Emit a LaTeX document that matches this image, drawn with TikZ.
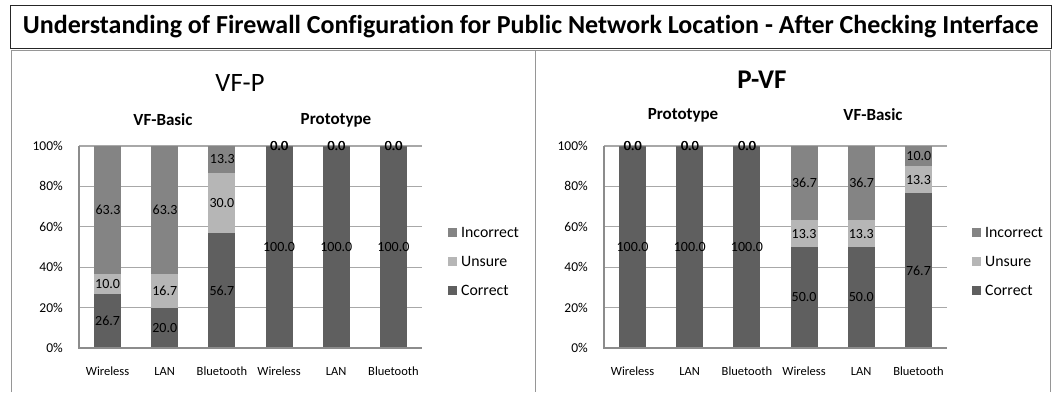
\documentclass[tikz,border=0pt]{standalone}
\usepackage{fontspec}
\setmainfont[Ligatures=NoCommon]{Carlito}
\definecolor{corc}{RGB}{95,95,95}
\definecolor{unsc}{RGB}{182,182,182}
\definecolor{incc}{RGB}{132,132,132}
\definecolor{gridc}{RGB}{168,168,168}
\definecolor{axisc}{RGB}{140,140,140}
\definecolor{framec}{RGB}{150,150,150}
\tikzset{
  gridline/.style={draw=gridc, line width=1.1pt},
  axisline/.style={draw=axisc, line width=1.6pt},
  dlab/.style={inner sep=0pt, font=\fontsize{14}{16}\selectfont},
  ticklab/.style={inner sep=0pt, anchor=east, font=\fontsize{13.5}{16}\selectfont},
  catlab/.style={inner sep=0pt, font=\fontsize{12.5}{15}\selectfont},
  leglab/.style={inner sep=0pt, anchor=west, font=\fontsize{15.8}{18}\selectfont},
  subtitle/.style={inner sep=0pt, font=\bfseries\fontsize{17}{20}\selectfont},
}
\newcommand\drawchart[3]{%
\begin{scope}[xshift=#1pt]
  \foreach \p in {20,40,60,80,100} \draw[gridline] (0,{348-2.02*\p}) -- (343,{348-2.02*\p});
  \foreach \k/\c/\u/\i/\cat in {#2} {
    \pgfmathsetmacro\xa{(\k-0.5)*57.17-13.5}
    \pgfmathsetmacro\xb{\xa+27}
    \pgfmathsetmacro\xm{\xa+13.5}
    \pgfmathsetmacro\yc{348-2.02*\c}
    \pgfmathsetmacro\yu{\yc-2.02*\u}
    \pgfmathsetmacro\yi{\yu-2.02*\i}
    \fill[corc] (\xa,348) rectangle (\xb,\yc);
    \fill[unsc] (\xa,\yc) rectangle (\xb,\yu);
    \fill[incc] (\xa,\yu) rectangle (\xb,\yi);
    \node[dlab] (#3c\k) at (\xm,{(348+\yc)/2}) {\c};
    \node[dlab] (#3u\k) at (\xm,{(\yc+\yu)/2}) {\u};
    \node[dlab] (#3i\k) at ({\xm+0.4},{(\yu+\yi)/2}) {\i};
    \node[catlab] (#3cat\k) at (\xm,371) {\cat};
  }
  \foreach \p in {0,20,40,60,80,100} \node[ticklab] (#3t\p) at (-16,{348-2.02*\p}) {\p\%};
  \draw[axisline] (0,146) -- (0,348) -- (343,348);
\end{scope}}
\begin{document}
\begin{tikzpicture}[x=1pt,y=-1pt]
\useasboundingbox (0,0) rectangle (1052,392);
\fill[white] (0,0) rectangle (1052,392);
% panels
\draw[framec, line width=1.2pt] (11.5,392) -- (11.5,50.7) -- (1050.5,50.7) -- (1050.5,392);
\draw[framec, line width=1.2pt] (535.7,50.7) -- (535.7,392);
% title box
\node[draw=black!85, line width=1pt, minimum width=1040.5pt, minimum height=43.5pt, inner sep=0pt,
      font=\bfseries\fontsize{26}{30}\selectfont] (title) at (530.75,26.75)
  {Understanding of Firewall Configuration for Public Network Location - After Checking Interface};
% left chart
\node[inner sep=0pt, font=\fontsize{26.5}{30}\selectfont] (vfp) at (240,83) {VF-P};
\node[subtitle] (lsub1) at (163,120) {VF-Basic};
\node[subtitle] (lsub2) at (336,120) {Prototype};
\drawchart{79}{1/26.7/10.0/63.3/Wireless, 2/20.0/16.7/63.3/LAN, 3/56.7/30.0/13.3/Bluetooth, 4/100.0/0.0/0.0/Wireless, 5/100.0/0.0/0.0/LAN, 6/100.0/0.0/0.0/Bluetooth}{L}
% left legend
\fill[incc] (448.3,227.5) rectangle (457.3,236.5);
\fill[unsc] (448.3,257.2) rectangle (457.3,266.2);
\fill[corc] (448.3,285.5) rectangle (457.3,294.5);
\node[leglab] (lleg1) at (461,232) {Incorrect};
\node[leglab] (lleg2) at (461,261.7) {Unsure};
\node[leglab] (lleg3) at (461,290) {Correct};
% right chart
\node[inner sep=0pt, font=\bfseries\fontsize{27}{30}\selectfont] (pvf) at (762,80) {P-VF};
\node[subtitle] (rsub1) at (683,115) {Prototype};
\node[subtitle] (rsub2) at (873,115) {VF-Basic};
\drawchart{604}{1/100.0/0.0/0.0/Wireless, 2/100.0/0.0/0.0/LAN, 3/100.0/0.0/0.0/Bluetooth, 4/50.0/13.3/36.7/Wireless, 5/50.0/13.3/36.7/LAN, 6/76.7/13.3/10.0/Bluetooth}{R}
% right legend
\fill[incc] (972.3,227.5) rectangle (981.3,236.5);
\fill[unsc] (972.3,257.2) rectangle (981.3,266.2);
\fill[corc] (972.3,285.5) rectangle (981.3,294.5);
\node[leglab] (rleg1) at (985,232) {Incorrect};
\node[leglab] (rleg2) at (985,261.7) {Unsure};
\node[leglab] (rleg3) at (985,290) {Correct};
\end{tikzpicture}
\end{document}
